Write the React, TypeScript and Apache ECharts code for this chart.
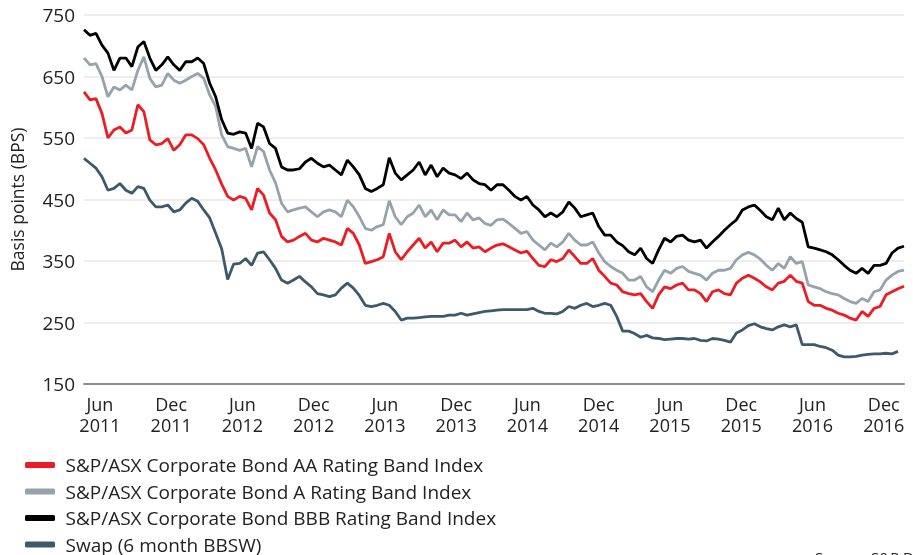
import React, { useEffect, useRef } from "react";
import * as echarts from "echarts";

// x positions: months relative to June 2011, roughly semi-monthly sampling
const START_MONTH = -1.34;
const STEP_MONTH = 0.504;

const aaIndex = [
  625, 612, 614, 590, 550, 563, 568, 558, 563, 604,
  593, 547, 539, 541, 549, 530, 539, 555, 555, 549,
  539, 517, 498, 475, 455, 449, 455, 452, 433, 468,
  457, 428, 417, 390, 381, 384, 390, 395, 384, 381,
  387, 384, 381, 376, 403, 395, 376, 346, 349, 352,
  357, 395, 365, 352, 365, 376, 387, 371, 381, 365,
  379, 379, 384, 373, 381, 371, 373, 365, 371, 376,
  378, 373, 368, 363, 366, 354, 343, 341, 352, 349,
  354, 368, 357, 346, 346, 354, 335, 325, 314, 311,
  300, 297, 295, 297, 284, 273, 295, 308, 305, 311,
  314, 303, 303, 297, 284, 300, 303, 297, 295, 314,
  322, 327, 322, 316, 308, 303, 314, 317, 327, 317,
  314, 284, 278, 278, 273, 270, 265, 262, 257, 254,
  268, 260, 273, 276, 295, 300, 305, 309,
];

const aIndex = [
  680, 669, 671, 650, 617, 633, 628, 636, 628, 660,
  682, 647, 633, 636, 655, 644, 639, 644, 650, 655,
  647, 620, 601, 555, 536, 533, 530, 533, 503, 536,
  528, 498, 477, 444, 430, 433, 436, 438, 430, 422,
  430, 433, 430, 422, 449, 438, 422, 403, 400, 406,
  409, 448, 422, 409, 422, 428, 441, 422, 433, 417,
  433, 425, 425, 414, 428, 417, 420, 411, 408, 417,
  418, 411, 403, 395, 398, 384, 376, 368, 379, 373,
  381, 395, 384, 376, 376, 381, 363, 349, 341, 335,
  330, 319, 319, 325, 308, 300, 319, 335, 330, 338,
  341, 333, 330, 327, 319, 330, 335, 335, 338, 352,
  360, 364, 360, 353, 343, 335, 346, 338, 357, 346,
  349, 311, 308, 305, 300, 297, 295, 289, 284, 281,
  289, 284, 300, 303, 319, 327, 333, 335,
];

const bbbIndex = [
  726, 717, 720, 701, 688, 660, 680, 680, 666, 698,
  707, 680, 660, 669, 682, 669, 660, 674, 674, 680,
  671, 639, 617, 580, 558, 556, 560, 558, 533, 574,
  568, 541, 533, 503, 498, 498, 500, 511, 517, 509,
  503, 506, 498, 490, 514, 503, 490, 468, 463, 468,
  474, 518, 493, 482, 490, 498, 511, 490, 506, 487,
  501, 493, 490, 484, 493, 482, 476, 474, 465, 474,
  474, 465, 455, 449, 455, 441, 433, 422, 428, 422,
  430, 446, 436, 422, 425, 428, 406, 392, 392, 381,
  375, 365, 360, 371, 354, 346, 368, 387, 381, 390,
  392, 384, 381, 384, 371, 381, 390, 400, 409, 417,
  433, 438, 441, 432, 422, 417, 436, 417, 428, 419,
  413, 373, 371, 368, 365, 360, 352, 343, 335, 330,
  338, 330, 343, 343, 346, 363, 371, 374,
];

const swap6m = [
  517, 509, 501, 487, 465, 468, 476, 465, 460, 471,
  468, 449, 438, 438, 441, 430, 433, 444, 452, 447,
  433, 420, 395, 370, 320, 345, 346, 354, 343, 363,
  365, 352, 338, 319, 314, 319, 325, 316, 308, 297,
  295, 292, 295, 306, 314, 306, 294, 278, 276, 278,
  281, 278, 268, 254, 257, 257, 258, 259, 260, 260,
  260, 262, 262, 265, 262, 264, 266, 268, 269, 270,
  271, 271, 271, 271, 271, 273, 268, 265, 265, 264,
  268, 276, 273, 278, 281, 276, 278, 281, 278, 260,
  236, 236, 232, 226, 229, 225, 224, 222, 223, 224,
  224, 223, 224, 221, 220, 224, 223, 221, 218, 233,
  238, 245, 248, 243, 240, 238, 243, 246, 243, 246,
  214, 214, 214, 211, 209, 205, 197, 194, 194, 195,
  197, 198, 199, 199, 200, 199, 203, null,
];

const seriesNames = [
  "S&P/ASX Corporate Bond AA Rating Band Index",
  "S&P/ASX Corporate Bond A Rating Band Index",
  "S&P/ASX Corporate Bond BBB Rating Band Index",
  "Swap (6 month BBSW)",
];
const seriesColors = ["#ed1c24", "#97a3aa", "#000000", "#3d5a6b"];

const xTickMonths = [0, 6, 12, 18, 24, 30, 36, 42, 48, 54, 60, 66];
const xTickLabels = [
  "Jun\n2011", "Dec\n2011", "Jun\n2012", "Dec\n2012", "Jun\n2013", "Dec\n2013",
  "Jun\n2014", "Dec\n2014", "Jun\n2015", "Dec\n2015", "Jun\n2016", "Dec\n2016",
];

const Y_MIN = 150;
const Y_MAX = 750;
const Y_STEP = 100;
const yAxisTitle = "Basis points (BPS)";
const sourceNote = "Source: S&P Dow Jones Indices";

const FONT = "'Open Sans', 'Noto Sans', sans-serif";

export default function App() {
  const ref = useRef<HTMLDivElement>(null);

  useEffect(() => {
    if (!ref.current) return;
    const chart = echarts.init(ref.current, undefined, { renderer: "svg" });
    const lists = [aaIndex, aIndex, bbbIndex, swap6m];
    const n = aaIndex.length;
    const months = Array.from({ length: n }, (_, i) => START_MONTH + i * STEP_MONTH);

    chart.setOption({
      animation: false,
      textStyle: { fontFamily: FONT },
      grid: { left: 82, right: 9, top: 15, bottom: 216 },
      legend: {
        orient: "vertical",
        left: 20,
        top: 450.5,
        height: 130,
        icon: "roundRect",
        itemWidth: 30,
        itemHeight: 6,
        itemGap: 7.5,
        data: seriesNames,
        textStyle: {
          fontFamily: FONT,
          fontSize: 19,
          color: "#222",
          lineHeight: 19,
          padding: [0, 0, 0, 5.5],
        },
      },
      xAxis: {
        type: "value",
        min: START_MONTH,
        max: START_MONTH + (n - 1) * STEP_MONTH,
        axisLine: { show: true, lineStyle: { color: "#8c8c8c", width: 2 } },
        axisTick: { show: false },
        splitLine: { show: false },
        axisLabel: {
          customValues: xTickMonths,
          formatter: (v: number) => {
            const k = xTickMonths.findIndex((m) => Math.abs(m - v) < 0.01);
            return k >= 0 ? xTickLabels[k] : "";
          },
          fontFamily: FONT,
          fontSize: 18,
          color: "#222",
          lineHeight: 21,
          margin: 9,
        },
      },
      yAxis: {
        type: "value",
        min: Y_MIN,
        max: Y_MAX,
        interval: Y_STEP,
        name: yAxisTitle,
        nameLocation: "middle",
        nameGap: 58,
        nameTextStyle: { fontFamily: FONT, fontSize: 17.5, color: "#222" },
        axisLine: { show: false },
        axisTick: { show: false },
        axisLabel: { fontFamily: FONT, fontSize: 19, color: "#222", margin: 9 },
        splitLine: { show: true, lineStyle: { color: "#eeeeee", width: 2 } },
      },
      graphic: [
        {
          type: "text",
          left: 815,
          top: 549,
          style: { text: sourceNote, fontFamily: FONT, fontSize: 15, fill: "#222" },
        },
      ],
      series: lists.map((vals, si) => ({
        name: seriesNames[si],
        type: "line",
        showSymbol: false,
        symbol: "none",
        connectNulls: false,
        color: seriesColors[si],
        lineStyle: { color: seriesColors[si], width: 2.8 },
        data: vals.map((v, i) => [months[i], v]),
        z: si === 2 ? 4 : 3,
      })),
    });

    return () => chart.dispose();
  }, []);

  return (
    <div
      ref={ref}
      style={{ position: "fixed", left: 0, top: 0, width: 913, height: 600 }}
    />
  );
}
